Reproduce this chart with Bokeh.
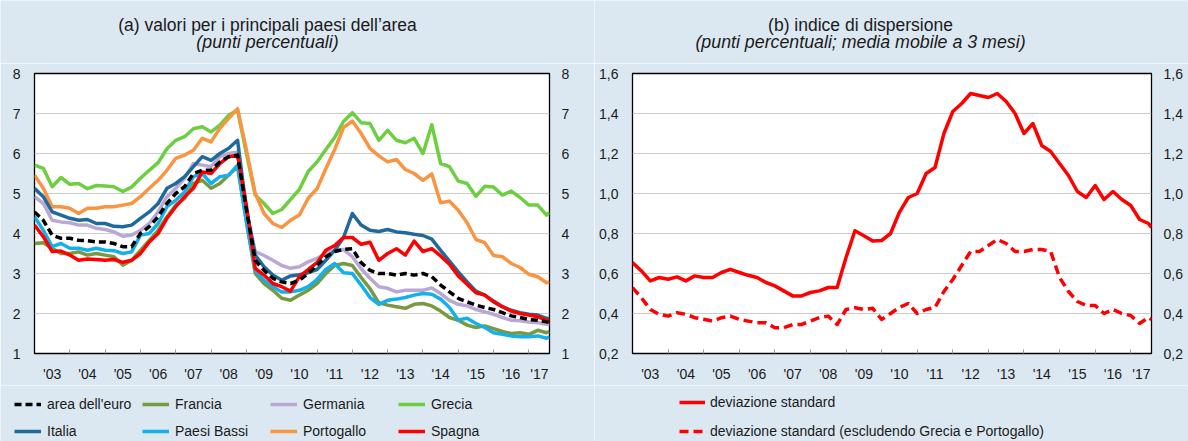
from bokeh.plotting import figure
from bokeh.models import Range1d, FixedTicker, LinearAxis, Legend, LegendItem, Label
from bokeh.layouts import row, column
from bokeh.embed import file_html
from bokeh.resources import INLINE

# ---------------- data ----------------
# observation dates: quarterly from Jan 2003, plus the last month (Aug 2017)
months = list(range(0, 175, 3)) + [175]
x_years = [2003 + m / 12 for m in months]

area_euro = [4.54, 4.33, 3.96, 3.88, 3.88, 3.83, 3.82, 3.79, 3.79, 3.75, 3.67, 3.67,
             4.00, 4.17, 4.42, 4.75, 5.00, 5.17, 5.50, 5.58, 5.58, 5.79, 5.92, 5.96,
             4.60, 3.33, 3.08, 2.88, 2.79, 2.75, 2.83, 3.00, 3.21, 3.42, 3.55, 3.60,
             3.62, 3.27, 3.08, 3.00, 3.00, 2.96, 3.00, 2.96, 3.00, 2.92, 2.71, 2.54,
             2.38, 2.29, 2.21, 2.15, 2.10, 2.02, 1.94, 1.90, 1.85, 1.83, 1.79, 1.78]
francia = [3.75, 3.77, 3.63, 3.50, 3.50, 3.54, 3.46, 3.50, 3.46, 3.42, 3.21, 3.33,
           3.58, 3.83, 4.08, 4.42, 4.71, 4.88, 5.25, 5.33, 5.13, 5.25, 5.46, 5.67,
           4.30, 3.00, 2.75, 2.58, 2.38, 2.33, 2.46, 2.58, 2.75, 3.00, 3.20, 3.25,
           3.20, 2.90, 2.62, 2.27, 2.21, 2.17, 2.13, 2.23, 2.25, 2.19, 2.06, 1.90,
           1.83, 1.71, 1.65, 1.69, 1.62, 1.55, 1.50, 1.52, 1.48, 1.58, 1.52, 1.55]
germania = [4.92, 4.75, 4.33, 4.29, 4.27, 4.21, 4.21, 4.13, 4.10, 4.04, 3.93, 3.96,
            4.08, 4.25, 4.54, 4.92, 5.13, 5.38, 5.75, 5.71, 5.67, 5.92, 6.00, 6.04,
            4.60, 3.55, 3.45, 3.33, 3.20, 3.13, 3.17, 3.29, 3.38, 3.50, 3.58, 3.60,
            3.42, 3.12, 2.88, 2.67, 2.63, 2.54, 2.58, 2.58, 2.58, 2.64, 2.50, 2.33,
            2.23, 2.19, 2.10, 2.04, 1.98, 1.90, 1.83, 1.82, 1.79, 1.77, 1.73, 1.74]
grecia = [5.71, 5.63, 5.17, 5.40, 5.23, 5.25, 5.12, 5.20, 5.19, 5.17, 5.05, 5.16,
          5.38, 5.58, 5.77, 6.12, 6.33, 6.42, 6.62, 6.67, 6.54, 6.71, 6.96, 7.08,
          6.00, 4.96, 4.75, 4.50, 4.60, 4.85, 5.10, 5.55, 5.79, 6.10, 6.40, 6.80,
          7.02, 6.77, 6.75, 6.33, 6.58, 6.33, 6.27, 6.38, 6.00, 6.72, 5.75, 5.67,
          5.31, 5.25, 4.93, 5.18, 5.16, 4.96, 5.06, 4.90, 4.71, 4.71, 4.46, 4.52]
italia = [5.13, 4.92, 4.54, 4.46, 4.38, 4.33, 4.35, 4.25, 4.25, 4.18, 4.17, 4.21,
          4.38, 4.54, 4.75, 5.13, 5.25, 5.42, 5.67, 5.92, 5.83, 6.00, 6.13, 6.33,
          4.60, 3.46, 3.17, 2.96, 2.83, 2.94, 2.97, 3.02, 3.10, 3.33, 3.58, 3.90,
          4.50, 4.21, 4.08, 4.05, 4.10, 4.04, 4.02, 3.98, 3.95, 3.86, 3.58, 3.31,
          3.04, 2.79, 2.56, 2.46, 2.31, 2.17, 2.08, 2.02, 1.98, 1.96, 1.88, 1.87]
paesi_bassi = [4.42, 4.08, 3.67, 3.75, 3.63, 3.63, 3.58, 3.63, 3.58, 3.57, 3.50, 3.54,
               3.96, 4.00, 4.25, 4.67, 4.83, 5.04, 5.42, 5.50, 5.25, 5.42, 5.46, 5.71,
               4.30, 3.08, 2.83, 2.67, 2.54, 2.54, 2.58, 2.67, 2.85, 3.10, 3.25, 3.02,
               3.00, 2.71, 2.40, 2.23, 2.33, 2.36, 2.40, 2.46, 2.50, 2.48, 2.36, 2.15,
               1.84, 1.88, 1.75, 1.65, 1.52, 1.48, 1.44, 1.42, 1.42, 1.44, 1.38, 1.42]
portogallo = [5.46, 5.13, 4.67, 4.67, 4.63, 4.50, 4.63, 4.63, 4.67, 4.67, 4.71, 4.75,
              4.92, 5.13, 5.33, 5.58, 5.88, 5.96, 6.08, 6.38, 6.29, 6.63, 6.88, 7.12,
              6.10, 5.00, 4.50, 4.25, 4.15, 4.33, 4.46, 4.88, 5.12, 5.62, 6.10, 6.65,
              6.81, 6.50, 6.13, 5.94, 5.79, 5.85, 5.60, 5.50, 5.33, 5.49, 4.77, 4.81,
              4.58, 4.27, 3.85, 3.77, 3.45, 3.42, 3.25, 3.15, 2.98, 2.92, 2.77, 2.79]
spagna = [4.21, 3.92, 3.55, 3.56, 3.46, 3.33, 3.36, 3.35, 3.33, 3.35, 3.28, 3.33,
          3.50, 3.79, 4.00, 4.38, 4.67, 4.92, 5.13, 5.54, 5.50, 5.75, 5.92, 5.96,
          4.70, 3.13, 2.96, 2.75, 2.67, 2.56, 2.92, 3.10, 3.27, 3.58, 3.70, 3.90,
          3.90, 3.73, 3.78, 3.33, 3.50, 3.62, 3.46, 3.81, 3.55, 3.62, 3.44, 3.23,
          2.94, 2.73, 2.52, 2.46, 2.29, 2.17, 2.06, 2.00, 1.96, 1.92, 1.83, 1.82]

dev_std = [0.655, 0.613, 0.563, 0.580, 0.571, 0.583, 0.563, 0.588, 0.580, 0.580, 0.605, 0.621,
           0.605, 0.591, 0.580, 0.555, 0.538, 0.513, 0.488, 0.488, 0.505, 0.513, 0.530, 0.530,
           0.680, 0.814, 0.789, 0.763, 0.765, 0.800, 0.906, 0.980, 1.000, 1.100, 1.130, 1.300,
           1.410, 1.450, 1.500, 1.490, 1.480, 1.500, 1.460, 1.400, 1.300, 1.350, 1.240, 1.210,
           1.150, 1.090, 1.010, 0.980, 1.040, 0.970, 1.010, 0.970, 0.940, 0.870, 0.850, 0.830]
dev_std_excl = [0.529, 0.479, 0.420, 0.396, 0.387, 0.404, 0.396, 0.379, 0.371, 0.362, 0.379, 0.387,
                0.371, 0.362, 0.354, 0.354, 0.329, 0.329, 0.345, 0.345, 0.362, 0.379, 0.387, 0.345,
                0.420, 0.429, 0.420, 0.426, 0.370, 0.400, 0.430, 0.450, 0.400, 0.420, 0.430, 0.510,
                0.570, 0.640, 0.710, 0.710, 0.740, 0.770, 0.750, 0.710, 0.710, 0.720, 0.720, 0.710,
                0.580, 0.510, 0.460, 0.440, 0.440, 0.400, 0.420, 0.400, 0.390, 0.350, 0.380, 0.370]

year_labels = ["'03", "'04", "'05", "'06", "'07", "'08", "'09", "'10",
               "'11", "'12", "'13", "'14", "'15", "'16", "'17"]
year_label_pos = [2003.5, 2004.5, 2005.5, 2006.5, 2007.5, 2008.5, 2009.5, 2010.5,
                  2011.5, 2012.5, 2013.5, 2014.5, 2015.5, 2016.5, 2017.3]
year_bounds = [2004, 2005, 2006, 2007, 2008, 2009, 2010, 2011,
               2012, 2013, 2014, 2015, 2016, 2017]

left_ticks = [1, 2, 3, 4, 5, 6, 7, 8]
left_tick_labels = ["1", "2", "3", "4", "5", "6", "7", "8"]
right_ticks = [0.2, 0.4, 0.6, 0.8, 1.0, 1.2, 1.4, 1.6]
right_tick_labels = ["0,2", "0,4", "0,6", "0,8", "1,0", "1,2", "1,4", "1,6"]

left_series = [
    ("area dell'euro", area_euro, "#000000", "7 4"),
    ("Francia", francia, "#77993f", "solid"),
    ("Germania", germania, "#bba7d3", "solid"),
    ("Grecia", grecia, "#6ccf40", "solid"),
    ("Italia", italia, "#1f6a9b", "solid"),
    ("Paesi Bassi", paesi_bassi, "#13b0ec", "solid"),
    ("Portogallo", portogallo, "#fa9440", "solid"),
    ("Spagna", spagna, "#ff0000", "solid"),
]
draw_order = ["Grecia", "Portogallo", "Germania", "Francia", "Paesi Bassi",
              "Italia", "Spagna", "area dell'euro"]

right_series = [
    ("deviazione standard", dev_std, "#ff0000", "solid"),
    ("deviazione standard (escludendo Grecia e Portogallo)", dev_std_excl, "#ff0000", "9 5"),
]

title_a = ("(a) valori per i principali paesi dell\u2019area", "(punti percentuali)")
title_b = ("(b) indice di dispersione", "(punti percentuali; media mobile a 3 mesi)")

# ---------------- style ----------------
FONT = "Liberation Sans"
TXT = "#1a1a1a"
BG = "#dce8f1"
X_END = 2003 + 175 / 12
LW = 3.5
W = 594


def style_y(ax, ticks, labels, standoff):
    ax.ticker = FixedTicker(ticks=ticks)
    ax.major_label_overrides = dict(zip(ticks, labels))
    ax.axis_line_color = None
    ax.major_tick_line_color = None
    ax.minor_tick_line_color = None
    ax.major_tick_in = 0
    ax.major_tick_out = 0
    ax.major_label_standoff = standoff
    ax.major_label_text_font = FONT
    ax.major_label_text_font_size = "14px"
    ax.major_label_text_color = TXT


def make_fig(ylo, yhi, ticks, labels, bl, br):
    p = figure(width=W, height=322, output_backend="svg", toolbar_location=None,
               x_range=Range1d(2003, X_END), y_range=Range1d(ylo, yhi),
               min_border_left=bl, min_border_right=br, min_border_top=10,
               min_border_bottom=32, background_fill_color="white",
               border_fill_color=BG, outline_line_color="black",
               outline_line_width=1.3)
    xa = p.xaxis[0]
    xa.ticker = FixedTicker(ticks=year_label_pos, minor_ticks=year_bounds)
    xa.major_label_overrides = dict(zip(year_label_pos, year_labels))
    xa.axis_line_color = None
    xa.major_tick_line_color = None
    xa.major_tick_in = 0
    xa.major_tick_out = 0
    xa.minor_tick_line_color = "#9a9a9a"
    xa.minor_tick_in = 4
    xa.minor_tick_out = 0
    xa.major_label_standoff = 12
    xa.major_label_text_font = FONT
    xa.major_label_text_font_size = "14px"
    xa.major_label_text_color = TXT
    style_y(p.yaxis[0], ticks, labels, 14)
    ra = LinearAxis()
    style_y(ra, ticks, labels, 12)
    p.add_layout(ra, "right")
    p.xgrid.visible = False
    p.ygrid.ticker = FixedTicker(ticks=ticks)
    p.ygrid.grid_line_color = "#cccccc"
    p.ygrid.grid_line_width = 1
    return p


def blank_fig(h):
    f = figure(width=W, height=h, output_backend="svg", toolbar_location=None,
               x_range=Range1d(0, 1), y_range=Range1d(0, 1),
               x_axis_location=None, y_axis_location=None, min_border=0,
               background_fill_color=BG, border_fill_color=BG, outline_line_color=None)
    f.grid.visible = False
    return f


def title_fig(lines, cx):
    f = blank_fig(63)
    f.add_layout(Label(x=cx, y=39, x_units="screen", y_units="screen", text=lines[0],
                       text_align="center", text_baseline="middle", text_font=FONT,
                       text_font_size="17.5px", text_color=TXT))
    f.add_layout(Label(x=cx, y=22, x_units="screen", y_units="screen", text=lines[1],
                       text_align="center", text_baseline="middle", text_font=FONT,
                       text_font_size="17.8px", text_font_style="italic", text_color=TXT))
    return f


def legend_fig(series, **kw):
    f = blank_fig(56)
    items = []
    for name, vals, col, dash in series:
        # proxy renderer: real data, outside this strip's (0, 1) range
        r = f.line(x_years, vals, line_color=col, line_width=LW, line_dash=dash)
        items.append(LegendItem(label=name, renderers=[r]))
    leg = Legend(items=items, padding=0, margin=0, background_fill_alpha=0,
                 border_line_color=None, label_text_font=FONT,
                 label_text_font_size="14px", label_text_color=TXT, **kw)
    f.add_layout(leg)
    return f


# ---------------- left panel ----------------
t1 = title_fig(title_a, 267)
p1 = make_fig(1, 8, left_ticks, left_tick_labels, 34, 45)
lookup = {s[0]: s for s in left_series}
for name in draw_order:
    _, vals, col, dash = lookup[name]
    p1.line(x_years, vals, line_color=col, line_width=LW, line_dash=dash, line_join="round")
l1 = legend_fig(left_series, location=(14, 0), orientation="horizontal", ncols=4,
                glyph_width=27, glyph_height=20, label_height=20, label_width=88,
                label_standoff=6, spacing=7)

# ---------------- right panel ----------------
t2 = title_fig(title_b, 266)
p2 = make_fig(0.2, 1.6, right_ticks, right_tick_labels, 38, 37)
for name, vals, col, dash in right_series:
    p2.line(x_years, vals, line_color=col, line_width=LW, line_dash=dash, line_join="round")
l2 = legend_fig(right_series, location=(85, 0), orientation="vertical",
                glyph_width=26, glyph_height=20, label_height=20,
                label_standoff=5, spacing=9)

layout = column(row(t1, t2), row(p1, p2), row(l1, l2))
open("out.html", "w").write(file_html(layout, INLINE))
